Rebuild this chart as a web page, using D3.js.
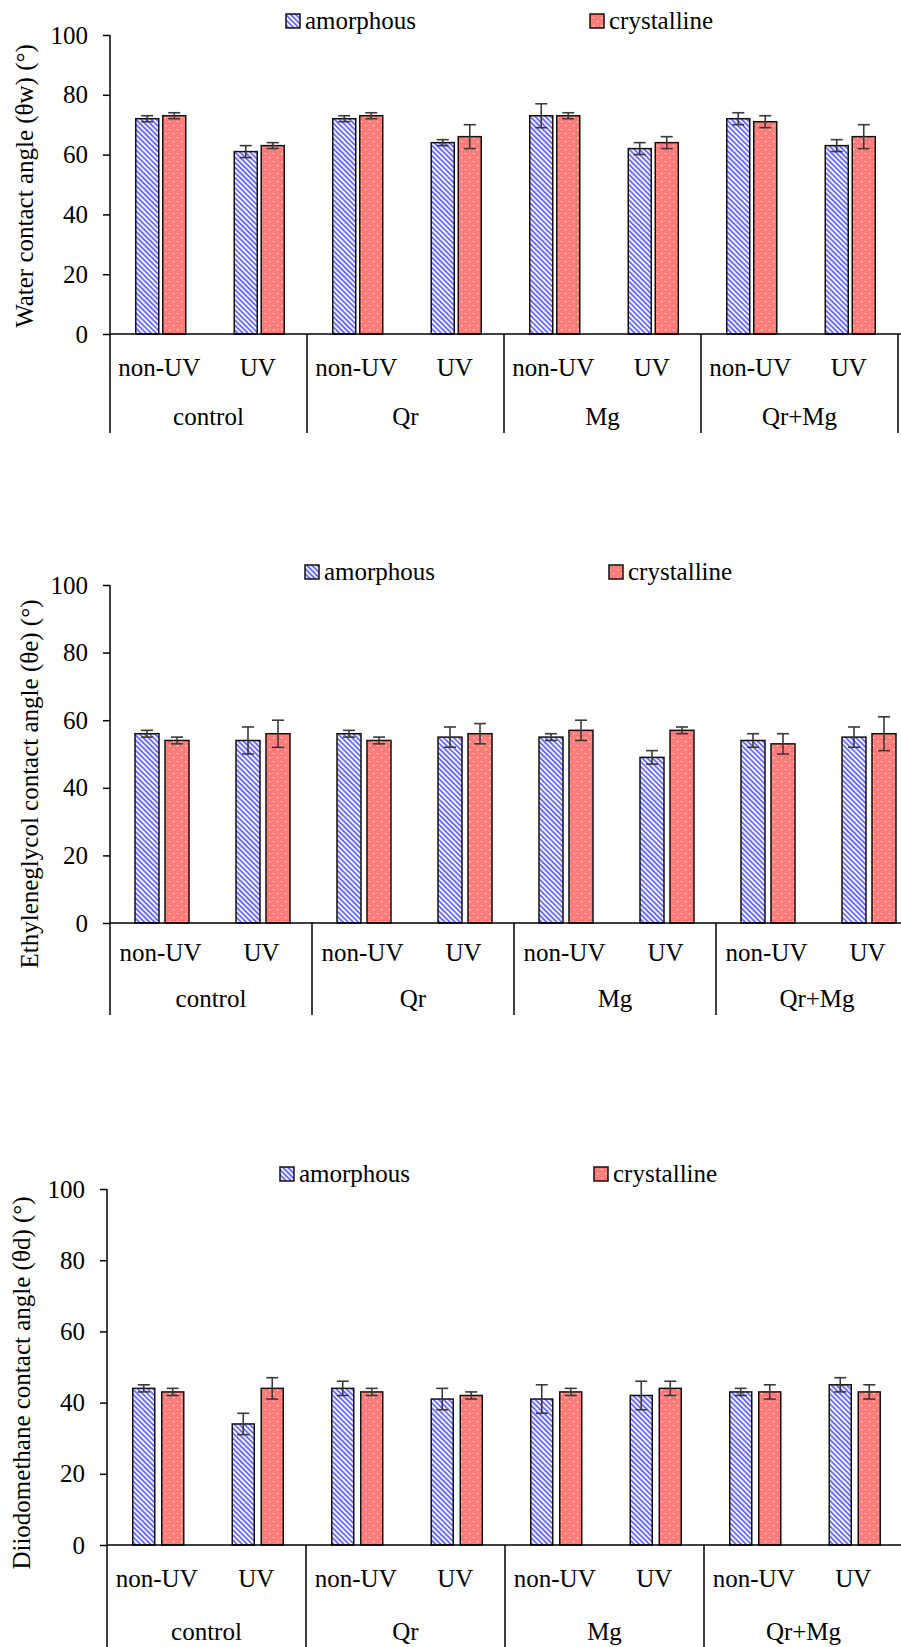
<!DOCTYPE html>
<html>
<head>
<meta charset="utf-8">
<script src="https://cdn.jsdelivr.net/npm/d3@7"></script>
<style>
  html, body { margin: 0; padding: 0; background: #fff; }
  svg { display: block; }
</style>
</head>
<body>
<svg id="chart" width="901" height="1647"></svg>
<script>
// ---------- data ----------
const groups = ["control", "Qr", "Mg", "Qr+Mg"];
const conditions = ["non-UV", "UV"];
const seriesNames = ["amorphous", "crystalline"];
const yTicks = [0, 20, 40, 60, 80, 100];

// order: control non-UV, control UV, Qr non-UV, Qr UV, Mg non-UV, Mg UV, Qr+Mg non-UV, Qr+Mg UV
const waterAmorphous      = [72, 61, 72, 64, 73, 62, 72, 63];
const waterAmorphousErr   = [1, 2, 1, 1, 4, 2, 2, 2];
const waterCrystalline    = [73, 63, 73, 66, 73, 64, 71, 66];
const waterCrystallineErr = [1, 1, 1, 4, 1, 2, 2, 4];

const egAmorphous      = [56, 54, 56, 55, 55, 49, 54, 55];
const egAmorphousErr   = [1, 4, 1, 3, 1, 2, 2, 3];
const egCrystalline    = [54, 56, 54, 56, 57, 57, 53, 56];
const egCrystallineErr = [1, 4, 1, 3, 3, 1, 3, 5];

const diAmorphous      = [44, 34, 44, 41, 41, 42, 43, 45];
const diAmorphousErr   = [1, 3, 2, 3, 4, 4, 1, 2];
const diCrystalline    = [43, 44, 43, 42, 43, 44, 43, 43];
const diCrystallineErr = [1, 3, 1, 1, 1, 2, 2, 2];

const titles = [
  "Water contact angle (\u03B8w) (\u00B0)",
  "Ethyleneglycol contact angle (\u03B8e) (\u00B0)",
  "Diiodomethane contact angle (\u03B8d) (\u00B0)"
];

// ---------- layout ----------
const layouts = [
  { x0: 110, groupW: 197, y0: 334, y100: 35, catBottom: 433, subBase: 376, groupBase: 425,
    legY: 14, leg1X: 286, leg2X: 590, titleX: 25, titleY: 186, bw: 23, gap: 4 },
  { x0: 110, groupW: 202, y0: 923, y100: 585, catBottom: 1015, subBase: 961, groupBase: 1007,
    legY: 565, leg1X: 305, leg2X: 609, titleX: 30, titleY: 784, bw: 24, gap: 6 },
  { x0: 107, groupW: 199, y0: 1545, y100: 1189, catBottom: 1647, subBase: 1587, groupBase: 1640,
    legY: 1167, leg1X: 280, leg2X: 594, titleX: 22, titleY: 1383, bw: 22, gap: 7 }
];

const chartData = [
  { vals: [waterAmorphous, waterCrystalline], errs: [waterAmorphousErr, waterCrystallineErr] },
  { vals: [egAmorphous, egCrystalline], errs: [egAmorphousErr, egCrystallineErr] },
  { vals: [diAmorphous, diCrystalline], errs: [diAmorphousErr, diCrystallineErr] }
];

const svg = d3.select("#chart");
const FS = 25;
const FONT = "'Liberation Serif', 'Times New Roman', 'DejaVu Serif', serif";

function styleText(sel) {
  return sel.style("font-family", FONT).style("font-size", FS + "px").style("fill", "#000");
}

// ---------- patterns ----------
const defs = svg.append("defs");
const pA = defs.append("pattern").attr("id", "patAmorph")
  .attr("patternUnits", "userSpaceOnUse").attr("width", 3.6).attr("height", 4)
  .attr("patternTransform", "rotate(-45)");
pA.append("rect").attr("width", 3.6).attr("height", 4).attr("fill", "#f2f2ff");
pA.append("rect").attr("width", 1.7).attr("height", 4).attr("fill", "#6666ff");

const pC = defs.append("pattern").attr("id", "patCryst")
  .attr("patternUnits", "userSpaceOnUse").attr("width", 8).attr("height", 8);
pC.append("rect").attr("width", 8).attr("height", 8).attr("fill", "#ff7c78");
pC.append("rect").attr("x", 1).attr("y", 1).attr("width", 1.3).attr("height", 1.3).attr("fill", "#ffe6e6");
pC.append("rect").attr("x", 5).attr("y", 5).attr("width", 1.3).attr("height", 1.3).attr("fill", "#ffe6e6");

const fills = ["url(#patAmorph)", "url(#patCryst)"];

// ---------- draw ----------
function drawChart(idx) {
  const L = layouts[idx];
  const D = chartData[idx];
  const g = svg.append("g");

  const y = d3.scaleLinear().domain([0, 100]).range([L.y0, L.y100]);
  const subCats = [];
  groups.forEach(gr => conditions.forEach(c => subCats.push(gr + "|" + c)));
  const xEndData = L.x0 + L.groupW * groups.length;
  const xSub = d3.scaleBand().domain(subCats).range([L.x0, xEndData]).padding(0);
  const xGroup = d3.scaleBand().domain(groups).range([L.x0, xEndData]).padding(0);
  const xSeries = d3.scaleBand().domain(seriesNames)
    .range([-(L.bw + L.gap / 2), L.bw + L.gap / 2]).paddingInner(L.gap / (L.bw + L.gap)).paddingOuter(0);

  // y axis
  const yAxis = d3.axisLeft(y).tickValues(yTicks).tickSize(7).tickPadding(15).tickFormat(d3.format("d"));
  const ya = g.append("g").attr("transform", `translate(${L.x0},0)`).call(yAxis);
  ya.attr("font-family", null).attr("font-size", null);
  ya.select(".domain").remove();
  ya.selectAll(".tick line").attr("stroke", "#000").attr("stroke-width", 1.5);
  styleText(ya.selectAll(".tick text"));
  g.append("line").attr("x1", L.x0).attr("x2", L.x0).attr("y1", y(100)).attr("y2", L.catBottom)
    .attr("stroke", "#000").attr("stroke-width", 1.5);

  // bars
  seriesNames.forEach((s, si) => {
    subCats.forEach((sc, i) => {
      const cx = xSub(sc) + xSub.bandwidth() / 2 + 1.5;
      const v = D.vals[si][i];
      g.append("rect")
        .attr("x", cx + xSeries(s)).attr("y", y(v))
        .attr("width", xSeries.bandwidth()).attr("height", y(0) - y(v))
        .attr("fill", fills[si]).attr("stroke", "#111").attr("stroke-width", 1.5);
    });
  });

  // error bars
  seriesNames.forEach((s, si) => {
    subCats.forEach((sc, i) => {
      const cx = xSub(sc) + xSub.bandwidth() / 2 + 1.5 + xSeries(s) + xSeries.bandwidth() / 2;
      const v = D.vals[si][i], e = D.errs[si][i];
      const eg = g.append("g").attr("stroke", "#3a3a3a").attr("stroke-width", 1.6);
      eg.append("line").attr("x1", cx).attr("x2", cx).attr("y1", y(v + e)).attr("y2", y(v - e));
      eg.append("line").attr("x1", cx - 6).attr("x2", cx + 6).attr("y1", y(v + e)).attr("y2", y(v + e));
      eg.append("line").attr("x1", cx - 6).attr("x2", cx + 6).attr("y1", y(v - e)).attr("y2", y(v - e));
    });
  });

  // x axis baseline
  g.append("line").attr("x1", L.x0).attr("x2", 901).attr("y1", y(0)).attr("y2", y(0))
    .attr("stroke", "#000").attr("stroke-width", 1.5);

  // group dividers
  groups.forEach(gr => {
    const xr = xGroup(gr) + xGroup.bandwidth();
    g.append("line").attr("x1", xr).attr("x2", xr).attr("y1", y(0)).attr("y2", L.catBottom)
      .attr("stroke", "#000").attr("stroke-width", 1.5);
  });

  // sub labels
  subCats.forEach(sc => {
    styleText(g.append("text").attr("x", xSub(sc) + xSub.bandwidth() / 2).attr("y", L.subBase)
      .attr("text-anchor", "middle")).text(sc.split("|")[1]);
  });
  // group labels
  groups.forEach(gr => {
    styleText(g.append("text").attr("x", xGroup(gr) + xGroup.bandwidth() / 2).attr("y", L.groupBase)
      .attr("text-anchor", "middle")).text(gr);
  });

  // y title
  styleText(g.append("text").attr("transform", `translate(${L.titleX + 8},${L.titleY}) rotate(-90)`)
    .attr("text-anchor", "middle")).text(titles[idx]);

  // legend
  [L.leg1X, L.leg2X].forEach((lx, si) => {
    g.append("rect").attr("x", lx).attr("y", L.legY).attr("width", 14).attr("height", 14)
      .attr("fill", fills[si]).attr("stroke", "#111").attr("stroke-width", 1.5);
    styleText(g.append("text").attr("x", lx + 19).attr("y", L.legY + 15)).text(seriesNames[si]);
  });
}

[0, 1, 2].forEach(drawChart);
</script>
</body>
</html>
